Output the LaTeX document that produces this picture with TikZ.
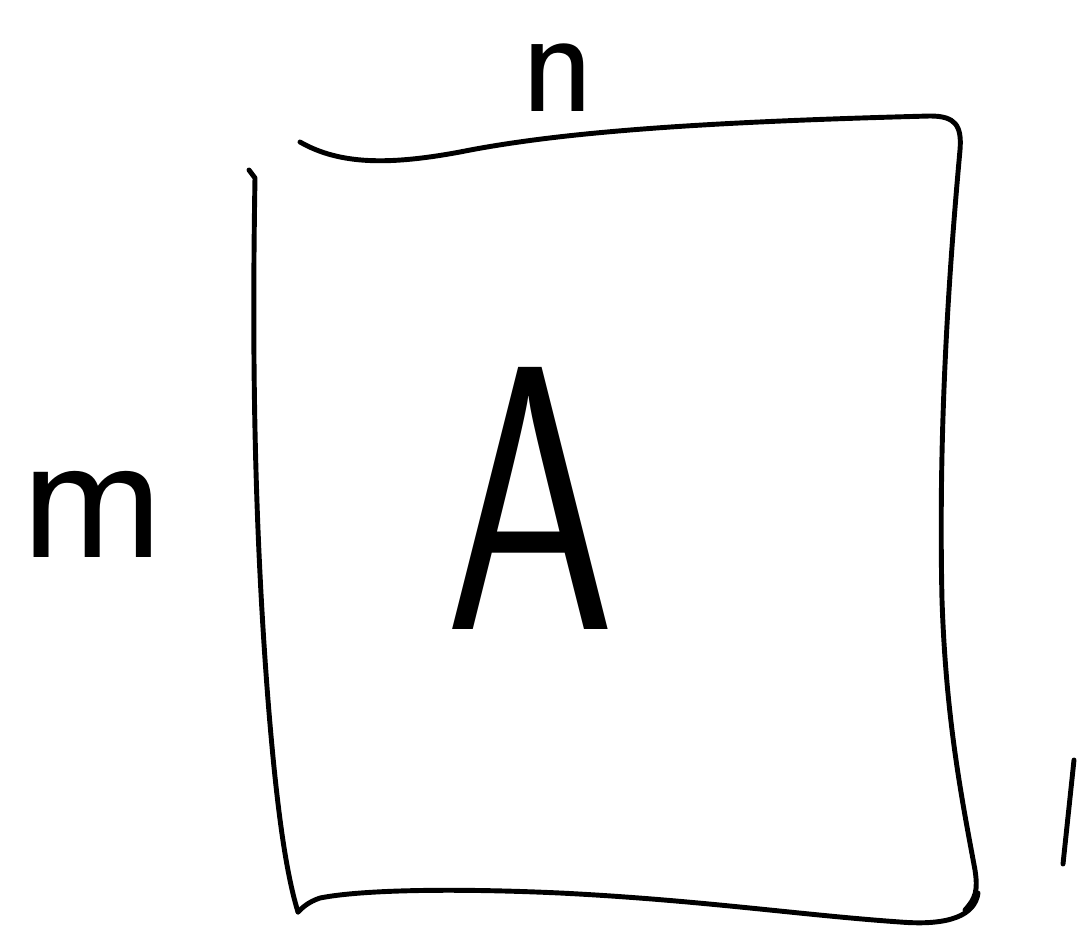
\documentclass[tikz,border=0pt]{standalone}
\usepackage{tikz}
\usetikzlibrary{positioning}

\begin{document}
\begin{tikzpicture}[
  x=0.02cm, y=-0.02cm,
  stroke/.style={line width=2.8pt, line cap=round, line join=round, black},
  letter/.style={font=\sffamily, inner sep=0pt, text=black}
]
  \useasboundingbox (0,0) rectangle (1092,929);

  % matrix outline
  \draw[stroke] (300,142) .. controls (340,165) and (390,165) .. (460,152)
    .. controls (560,132) and (700,122) .. (930,116)
    .. controls (955,116) and (962,125) .. (960,150)
    .. controls (950,260) and (938,420) .. (942,600)
    .. controls (946,720) and (962,800) .. (975,870)
    .. controls (978,890) and (976,898) .. (965,910);
  \draw[stroke] (978,893) .. controls (975,915) and (950,926) .. (900,922)
    .. controls (800,915) and (700,900) .. (560,893)
    .. controls (450,888) and (360,890) .. (320,898)
    .. controls (308,902) and (302,908) .. (298,912);
  \draw[stroke] (249,170) -- (255,178)
    .. controls (252,350) and (254,520) .. (268,700)
    .. controls (276,800) and (285,870) .. (298,912);

  \draw[stroke] (1074,760) -- (1063,864);

  \node[letter, xscale=0.72, font=\sffamily\fontsize{215}{215}\selectfont] (mA) at (530,498) {A};
  \node[letter, font=\sffamily\fontsize{112}{112}\selectfont] (rows) at (93,514) {m};
  \node[letter, font=\sffamily\fontsize{88}{88}\selectfont] (cols) at (558,78) {n};
\end{tikzpicture}
\end{document}
